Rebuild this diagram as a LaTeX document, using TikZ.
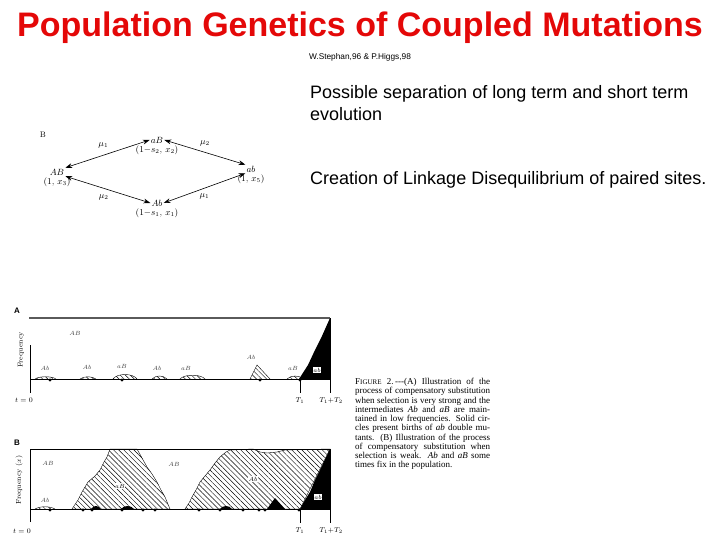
\documentclass[tikz,border=0pt]{standalone}
\usepackage{fontspec}
\usepackage{amsmath}
\usetikzlibrary{positioning,arrows.meta,patterns.meta}
\newfontfamily\headfont{Liberation Sans}
\newfontfamily\capfont{Liberation Serif}
\definecolor{titlered}{RGB}{228,8,8}
\definecolor{topgray}{RGB}{90,90,90}
\tikzset{
  heading/.style={anchor=base,inner sep=0pt,text=titlered,font=\headfont\bfseries\fontsize{34}{38}\selectfont},
  cite/.style={anchor=base,inner sep=0pt,font=\headfont\fontsize{8.3}{9}\selectfont},
  body/.style={anchor=base west,inner sep=0pt,align=left,font=\headfont\fontsize{18}{21.5}\selectfont},
  plate/.style={inner sep=0pt,font=\fontsize{8}{9}\selectfont},
  geno/.style={inner sep=1pt,font=\fontsize{9}{10}\selectfont},
  mu/.style={inner sep=0pt,font=\fontsize{9}{10}\selectfont},
  dar/.style={{Stealth[length=2.4mm,width=1.7mm]}-{Stealth[length=2.4mm,width=1.7mm]},semithick},
  hatch/.style={draw,thin,pattern={Lines[angle=-45,distance=3.6pt,line width=0.45pt]}},
  plab/.style={inner sep=0.5pt,font=\fontsize{6.5}{7}\selectfont,text=black!75},
  wlab/.style={plab,fill=white,text=black},
  axlab/.style={inner sep=0pt,font=\fontsize{7}{8}\selectfont},
  capt/.style={anchor=north west,inner sep=0pt,text width=135pt,align=justify,
    font=\capfont\fontsize{9}{9.27}\selectfont},
}

\begin{document}
\begin{tikzpicture}[x=1pt,y=-1pt]
  \useasboundingbox (0,0) rectangle (720,540);
  % heading and bullet text
  \node[heading] (title) at (360,37) {Population Genetics of Coupled Mutations};
  \node[cite] (ref) at (360,60) {W.Stephan,96 \& P.Higgs,98};
  \node[body] (sep) at (310,120.5) {Possible separation of long term and short term\\evolution};
  \node[body] (ld) at (310,185) {Creation of Linkage Disequilibrium of paired sites.};

  % mutation scheme
  \node[plate] (lbS) at (43,135) {B};
  \node[geno] (aB) at (157,140) {$aB$};
  \node[geno,below=0.5pt of aB] (aBw) {$(1{-}s_2,\,x_2)$};
  \node[geno] (AB) at (57,172) {$AB$};
  \node[geno,below=0.5pt of AB] (ABw) {$(1,\,x_3)$};
  \node[geno] (ab) at (251,169) {$ab$};
  \node[geno,below=0.5pt of ab] (abw) {$(1,\,x_5)$};
  \node[geno] (Ab) at (157,203) {$Ab$};
  \node[geno,below=0.5pt of Ab] (Abw) {$(1{-}s_1,\,x_1)$};
  \draw[dar] (AB.north east) -- node[mu,pos=.45,above=7pt] (m1) {$\mu_1$} (aB.west);
  \draw[dar] (aB.east) -- node[mu,pos=.5,above=6pt] (m2) {$\mu_2$} (ab.north west);
  \draw[dar] (AB.south east) -- node[mu,pos=.45,below=6pt] (m3) {$\mu_2$} (Ab.west);
  \draw[dar] (Ab.east) -- node[mu,pos=.5,below=5pt] (m4) {$\mu_1$} (ab.south west);

  % panel A: strong selection
  \node[plate,font=\headfont\bfseries\fontsize{8}{9}\selectfont] (lbA) at (17,311) {A};
  \draw[line width=1.6pt,topgray] (29,318) -- (330,318);
  \draw[thin] (30,345) -- (30,393);
  \foreach \a/\b/\h in {35/56/3,80/96/3,113/137/6,152/167/4,180/205/5,287/303/4}
    \draw[hatch] (\a,379) .. controls ({\a+4},{379-\h}) and ({\b-4},{379-\h}) .. (\b,379);
  \draw[hatch] (250,379) -- (257,365) -- (270,379);
  \fill (299,379) -- (308,365) -- (315,350) -- (322,336) -- (330,318) -- (330,379) -- cycle;
  \draw[thin] (30,379) -- (330,379);
  \draw[thin] (330,318) -- (330,393);
  \draw[thin] (300,379) -- (300,393);
  \foreach \x in {50,122,260,300}
    \fill (\x,380) circle (1.7);
  \node[plab] (fA) at (75,333) {$AB$};
  \foreach \x/\y/\t [count=\i] in {45/368/Ab,87/367/Ab,122/366/aB,157/368/Ab,186/368/aB,251/357/Ab,293/368/aB}
    \node[plab] (la\i) at (\x,\y) {$\t$};
  \node[wlab] (abA) at (317,370) {$ab$};
  \node[axlab,rotate=90] (yA) at (21,350) {Frequency};
  \node[axlab] (t0A) at (24,400) {$t=0$};
  \node[axlab] (t1A) at (300,401) {$T_1$};
  \node[axlab] (t2A) at (331,401) {$T_1{+}T_2$};

  % panel B: weak selection
  \node[plate,font=\headfont\bfseries\fontsize{8}{9}\selectfont] (lbB) at (17,443) {B};
  \draw[thin] (30,522) -- (30,449) -- (330,449);
  \draw[hatch] (35,509) .. controls (40,506) and (50,506) .. (55,509);
  \draw[hatch] (72,509) -- (78,500) -- (82,492) -- (88,482) -- (95,476) -- (100,470)
    -- (104,462) -- (107,457) -- (110,449) -- (137,449) -- (142,458) -- (147,467)
    -- (152,474) -- (157,482) -- (161,490) -- (165,497) -- (170,509) -- cycle;
  \draw[hatch] (185,509) -- (189,503) -- (192,497) -- (196,490) -- (200,482) -- (205,476)
    -- (210,470) -- (215,463) -- (220,457) -- (226,452) -- (230,450) -- (253,449)
    -- (260,452) -- (267,453) -- (277,452) -- (285,450) -- (330,449) -- (300,509) -- cycle;
  \fill (300,509) -- (305,500) -- (310,492) -- (315,480) -- (320,470) -- (330,449) -- (330,509) -- cycle;
  \fill (267,509) -- (275,498) -- (285,509) -- cycle;
  \foreach \a/\b in {91/101,121/134,220/232}
    \fill (\a,509) .. controls ({\a+3},505) and ({\b-3},505) .. (\b,509);
  \draw[thin] (30,509) -- (330,509);
  \draw[thin] (330,449) -- (330,523);
  \draw[thin] (300,509) -- (300,523);
  \foreach \x in {50,83,92,122,143,155,199,220,243,259,265,299}
    \fill (\x,510) circle (1.7);
  \node[plab] (lb1) at (48,463) {$AB$};
  \node[plab] (lb2) at (45,500) {$Ab$};
  \node[wlab] (lb3) at (120,486) {$aB$};
  \node[plab] (lb4) at (174,464) {$AB$};
  \node[wlab] (lb5) at (253,479) {$Ab$};
  \node[wlab] (abB) at (318,497) {$ab$};
  \node[axlab,rotate=90] (yB) at (19,480) {Frequency ($x$)};
  \node[axlab] (t0B) at (22,531) {$t=0$};
  \node[axlab] (t1B) at (300,531) {$T_1$};
  \node[axlab] (t2B) at (331,531) {$T_1{+}T_2$};

  % caption
  \node[capt] (figcap) at (355,378) {F{\fontsize{7}{9}\selectfont IGURE} 2.\,---(A) Illustration of the\linebreak
    process of compensatory substitution\linebreak
    when selection is very strong and the\linebreak
    intermediates \textit{Ab} and \textit{aB} are main-\linebreak
    tained in low frequencies. Solid cir-\linebreak
    cles present births of \textit{ab} double mu-\linebreak
    tants. (B) Illustration of the process\linebreak
    of compensatory substitution when\linebreak
    selection is weak. \textit{Ab} and \textit{aB} some\linebreak
    times fix in the population.};
\end{tikzpicture}
\end{document}
